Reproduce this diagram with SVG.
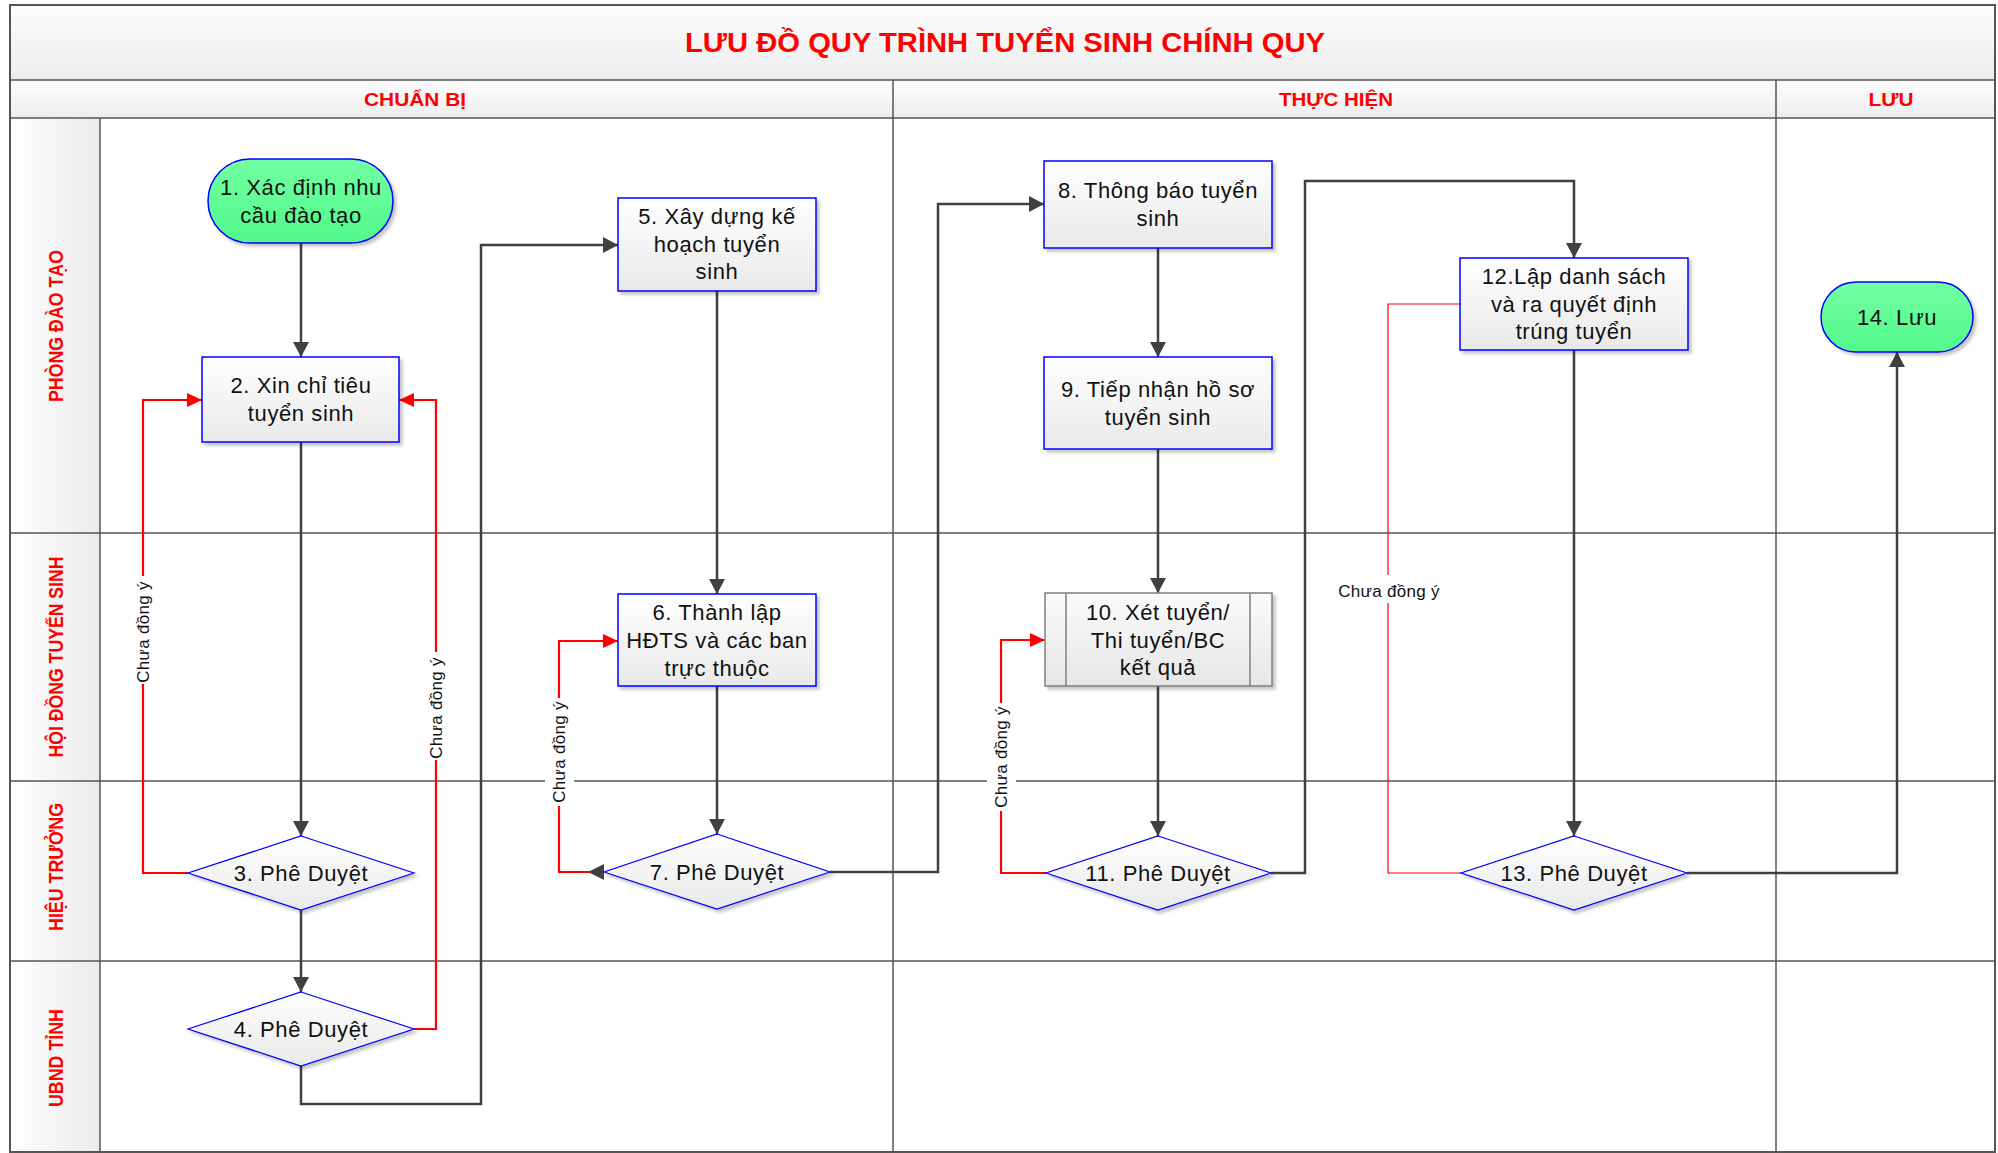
<svg xmlns="http://www.w3.org/2000/svg" width="1998" height="1153" viewBox="0 0 1998 1153">
<defs>
<linearGradient id="gBox" x1="0" y1="0" x2="0" y2="1"><stop offset="0" stop-color="#ffffff"/><stop offset="1" stop-color="#e9e9e9"/></linearGradient>
<linearGradient id="gGrey" x1="0" y1="0" x2="0" y2="1"><stop offset="0" stop-color="#fbfbfb"/><stop offset="1" stop-color="#e6e6e6"/></linearGradient>
<linearGradient id="gGreen" x1="0" y1="0" x2="0" y2="1"><stop offset="0" stop-color="#72ffa2"/><stop offset="1" stop-color="#52f98b"/></linearGradient>
<linearGradient id="gBand" x1="0" y1="0" x2="0" y2="1"><stop offset="0" stop-color="#fdfdfd"/><stop offset="1" stop-color="#ededed"/></linearGradient>
<linearGradient id="gLane" x1="0" y1="0" x2="1" y2="0"><stop offset="0" stop-color="#ffffff"/><stop offset="1" stop-color="#ebebeb"/></linearGradient>
<filter id="sh" x="-10%" y="-10%" width="130%" height="130%"><feDropShadow dx="3" dy="3" stdDeviation="1.5" flood-color="#000" flood-opacity="0.22"/></filter>
<marker id="ak" markerUnits="userSpaceOnUse" markerWidth="15" markerHeight="16" refX="15" refY="8" orient="auto"><path d="M0,0 L15,8 L0,16 z" fill="#404040"/></marker>
<marker id="ar" markerUnits="userSpaceOnUse" markerWidth="15" markerHeight="14" refX="15" refY="7" orient="auto"><path d="M0,0 L15,7 L0,14 z" fill="#ff0000"/></marker>
<style>
.ln{stroke:#555;stroke-width:1.5;fill:none}
.tt{font-family:"Liberation Sans",Arial,sans-serif;font-weight:bold;fill:#ff0000}
.nt{font-family:"Liberation Sans",Arial,sans-serif;font-size:22px;letter-spacing:0.6px;fill:#111;text-anchor:middle}
.box{fill:url(#gBox);stroke:#0000ff;stroke-width:1.5;filter:url(#sh)}
.dia{fill:url(#gBox);stroke:#0000ff;stroke-width:1.2;filter:url(#sh)}
.ov{fill:url(#gGreen);stroke:#0000ff;stroke-width:1.5;filter:url(#sh)}
.ck{fill:none;stroke:#404040;stroke-width:2.5;marker-end:url(#ak)}
.cr{fill:none;stroke:#ff0000;stroke-width:2.2;marker-end:url(#ar)}
.cr1{fill:none;stroke:#ff0000;stroke-width:1.2}
.lb{font-family:"Liberation Sans",Arial,sans-serif;font-size:17px;letter-spacing:0.3px;fill:#111;text-anchor:middle}
.bg{fill:#ffffff}
</style>
</defs>

<g id="frame">
<rect x="10" y="5" width="1985" height="1147" fill="#ffffff"/>
<rect x="10" y="5" width="1985" height="75" fill="url(#gBand)"/>
<rect x="10" y="80" width="1985" height="38" fill="url(#gBand)"/>
<rect x="10" y="118" width="90" height="1034" fill="url(#gLane)"/>
<line class="ln" x1="10" y1="80" x2="1995" y2="80"/>
<line class="ln" x1="10" y1="118" x2="1995" y2="118"/>
<line class="ln" x1="10" y1="533" x2="1995" y2="533"/>
<line class="ln" x1="10" y1="781" x2="1995" y2="781"/>
<line class="ln" x1="10" y1="961" x2="1995" y2="961"/>
<line class="ln" x1="100" y1="118" x2="100" y2="1152"/>
<line class="ln" x1="893" y1="80" x2="893" y2="1152"/>
<line class="ln" x1="1776" y1="80" x2="1776" y2="1152"/>
<rect x="10" y="5" width="1985" height="1147" fill="none" stroke="#555" stroke-width="2"/>
<text class="tt" x="1005" y="52" font-size="28" text-anchor="middle" textLength="640" lengthAdjust="spacingAndGlyphs">LƯU ĐỒ QUY TRÌNH TUYỂN SINH CHÍNH QUY</text>
<text class="tt" x="415" y="106" font-size="18" text-anchor="middle" textLength="102" lengthAdjust="spacingAndGlyphs">CHUẨN BỊ</text>
<text class="tt" x="1336" y="106" font-size="18" text-anchor="middle" textLength="114" lengthAdjust="spacingAndGlyphs">THỰC HIỆN</text>
<text class="tt" x="1891" y="106" font-size="18" text-anchor="middle" textLength="45" lengthAdjust="spacingAndGlyphs">LƯU</text>
<text class="tt" transform="translate(63,326) rotate(-90)" font-size="21" text-anchor="middle" textLength="152" lengthAdjust="spacingAndGlyphs">PHÒNG ĐÀO TẠO</text>
<text class="tt" transform="translate(63,657) rotate(-90)" font-size="21" text-anchor="middle" textLength="201" lengthAdjust="spacingAndGlyphs">HỘI ĐỒNG TUYỂN SINH</text>
<text class="tt" transform="translate(63,867) rotate(-90)" font-size="21" text-anchor="middle" textLength="128" lengthAdjust="spacingAndGlyphs">HIỆU TRƯỞNG</text>
<text class="tt" transform="translate(63,1058) rotate(-90)" font-size="21" text-anchor="middle" textLength="98" lengthAdjust="spacingAndGlyphs">UBND TỈNH</text>
</g>

<g id="connectors">
<path class="ck" d="M301,243 V357"/>
<path class="ck" d="M301,442 V836"/>
<path class="ck" d="M301,910 V992"/>
<path class="ck" d="M301,1066 V1104 H481 V245 H618"/>
<path class="ck" d="M717,291 V594"/>
<path class="ck" d="M717,686 V834"/>
<path class="ck" d="M830,872 H938 V204 H1044"/>
<path class="ck" d="M1158,248 V357"/>
<path class="ck" d="M1158,449 V593"/>
<path class="ck" d="M1158,686 V836"/>
<path class="ck" d="M1271,873 H1305 V181 H1574 V258"/>
<path class="ck" d="M1574,350 V836"/>
<path class="ck" d="M1687,873 H1897 V352"/>
<path class="cr" d="M188,873 H143 V400 H202"/>
<path class="cr" d="M414,1029 H436 V400 H399"/>
<path class="cr" d="M604,872 H559 V641 H618"/>
<polygon points="588,872 604,864 604,880" fill="#404040"/>
<path class="cr" d="M1046,873 H1001 V640 H1045"/>
<path class="cr1" d="M1461,873 H1388 V304 H1460"/>
<rect class="bg" x="130" y="576" width="26" height="108"/>
<text class="lb" transform="translate(149,632) rotate(-90)">Chưa đồng ý</text>
<rect class="bg" x="423" y="652" width="26" height="108"/>
<text class="lb" transform="translate(442,708) rotate(-90)">Chưa đồng ý</text>
<rect class="bg" x="545" y="698" width="29" height="108"/>
<text class="lb" transform="translate(565,752) rotate(-90)">Chưa đồng ý</text>
<rect class="bg" x="987" y="703" width="29" height="108"/>
<text class="lb" transform="translate(1007,757) rotate(-90)">Chưa đồng ý</text>
<rect class="bg" x="1322" y="575" width="134" height="28"/>
<text class="lb" x="1389" y="597" font-size="20" letter-spacing="0.5">Chưa đồng ý</text>
</g>

<g id="n1">
<rect class="ov" x="208" y="159" width="185" height="84" rx="42" ry="42"/>
<text class="nt" x="301" y="195">1. Xác định nhu</text>
<text class="nt" x="301" y="223">cầu đào tạo</text>
</g>
<g id="n2">
<rect class="box" x="202" y="357" width="197" height="85"/>
<text class="nt" x="301" y="393">2. Xin chỉ tiêu</text>
<text class="nt" x="301" y="421">tuyển sinh</text>
</g>
<g id="n3">
<polygon class="dia" points="301,836 414,873 301,910 188,873"/>
<text class="nt" x="301" y="881">3. Phê Duyệt</text>
</g>
<g id="n4">
<polygon class="dia" points="301,992 414,1029 301,1066 188,1029"/>
<text class="nt" x="301" y="1037">4. Phê Duyệt</text>
</g>
<g id="n5">
<rect class="box" x="618" y="198" width="198" height="93"/>
<text class="nt" x="717" y="224">5. Xây dựng kế</text>
<text class="nt" x="717" y="252">hoạch tuyển</text>
<text class="nt" x="717" y="279">sinh</text>
</g>
<g id="n6">
<rect class="box" x="618" y="594" width="198" height="92"/>
<text class="nt" x="717" y="620">6. Thành lập</text>
<text class="nt" x="717" y="648">HĐTS và các ban</text>
<text class="nt" x="717" y="676">trực thuộc</text>
</g>
<g id="n7">
<polygon class="dia" points="717,834 830,872 717,909 604,872"/>
<text class="nt" x="717" y="880">7. Phê Duyệt</text>
</g>
<g id="n8">
<rect class="box" x="1044" y="161" width="228" height="87"/>
<text class="nt" x="1158" y="198">8. Thông báo tuyển</text>
<text class="nt" x="1158" y="226">sinh</text>
</g>
<g id="n9">
<rect class="box" x="1044" y="357" width="228" height="92"/>
<text class="nt" x="1158" y="397">9. Tiếp nhận hồ sơ</text>
<text class="nt" x="1158" y="425">tuyển sinh</text>
</g>
<g id="n10">
<rect x="1045" y="593" width="227" height="93" fill="url(#gGrey)" stroke="#7f7f7f" stroke-width="1.5" filter="url(#sh)"/>
<line x1="1066" y1="593" x2="1066" y2="686" stroke="#7f7f7f" stroke-width="1.5"/>
<line x1="1250" y1="593" x2="1250" y2="686" stroke="#7f7f7f" stroke-width="1.5"/>
<text class="nt" x="1158" y="620" letter-spacing="0.2">10.  Xét tuyển/</text>
<text class="nt" x="1158" y="648" letter-spacing="0.2">Thi tuyển/BC</text>
<text class="nt" x="1158" y="675" letter-spacing="0.2">kết quả</text>
</g>
<g id="n11">
<polygon class="dia" points="1158,836 1271,873 1158,910 1046,873"/>
<text class="nt" x="1158" y="881">11. Phê Duyệt</text>
</g>
<g id="n12">
<rect class="box" x="1460" y="258" width="228" height="92"/>
<text class="nt" x="1574" y="284">12.Lập danh sách</text>
<text class="nt" x="1574" y="312">và ra quyết định</text>
<text class="nt" x="1574" y="339">trúng tuyển</text>
</g>
<g id="n13">
<polygon class="dia" points="1574,836 1687,873 1574,910 1461,873"/>
<text class="nt" x="1574" y="881">13. Phê Duyệt</text>
</g>
<g id="n14">
<rect class="ov" x="1821" y="282" width="152" height="70" rx="35" ry="35"/>
<text class="nt" x="1897" y="325">14. Lưu</text>
</g>
</svg>
